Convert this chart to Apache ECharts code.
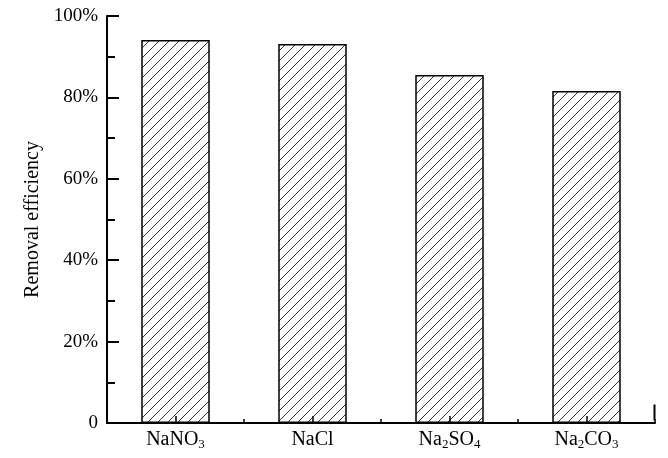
<!DOCTYPE html>
<html>
<head>
<meta charset="utf-8">
<script src="https://cdn.jsdelivr.net/npm/echarts@6/dist/echarts.min.js"></script>
<style>
  html, body { margin: 0; padding: 0; background: #fff; }
  #chart { width: 668px; height: 458px; }
</style>
</head>
<body>
<div id="chart"></div>
<script>
// data
const categories = ["NaNO{sub|3}", "NaCl", "Na{sub|2}SO{sub|4}", "Na{sub|2}CO{sub|3}"];
const removal = [94.1, 93.1, 85.5, 81.6];

const font = "Liberation Serif";

// diagonal hatch tile
const hatch = document.createElement("canvas");
hatch.width = 10;
hatch.height = 10;
const ctx = hatch.getContext("2d");
ctx.fillStyle = "#fff";
ctx.fillRect(0, 0, 10, 10);
ctx.strokeStyle = "#333";
ctx.lineWidth = 1;
ctx.beginPath();
ctx.moveTo(-1, 11); ctx.lineTo(11, -1);
ctx.moveTo(-1, 1); ctx.lineTo(1, -1);
ctx.moveTo(9, 11); ctx.lineTo(11, 9);
ctx.stroke();

const chart = echarts.init(document.getElementById("chart"));

const labelRich = {
  sub: { fontFamily: font, fontSize: 13, lineHeight: 16, color: "#000", padding: [10, 0, 0, 0] },
};

const option = {
  animation: false,
  grid: { left: 107, right: 13, top: 16, bottom: 35 },
  xAxis: [
    {
      type: "category",
      data: categories,
      z: 5,
      axisLine: { lineStyle: { color: "#000", width: 2 } },
      axisTick: { show: true, inside: true, length: 4, lineStyle: { color: "#000", width: 1.5 } },
      axisLabel: {
        interval: 0,
        fontFamily: font,
        fontSize: 20,
        lineHeight: 26,
        color: "#000",
        margin: 4,
        rich: labelRich,
      },
    },
    {
      type: "category",
      data: categories,
      position: "bottom",
      z: 5,
      axisLine: { show: false },
      axisTick: { show: true, inside: true, alignWithLabel: true, interval: 0, length: 7, lineStyle: { color: "#000", width: 1.5 } },
      axisLabel: { show: false },
    },
  ],
  yAxis: {
    type: "value",
    min: 0,
    max: 100,
    interval: 20,
    name: "Removal efficiency",
    nameLocation: "middle",
    nameGap: 52,
    nameTextStyle: { fontFamily: font, fontSize: 20, color: "#000" },
    axisLine: { show: true, lineStyle: { color: "#000", width: 2 } },
    axisTick: { show: true, inside: true, length: 12, lineStyle: { color: "#000", width: 2 } },
    minorTick: { show: true, splitNumber: 2, length: 8, lineStyle: { color: "#000", width: 2 } },
    splitLine: { show: false },
    axisLabel: {
      fontFamily: font,
      fontSize: 19,
      color: "#000",
      margin: 9,
      formatter: (v) => (v === 0 ? "0" : v + "%"),
    },
  },
  graphic: [
    {
      type: "line",
      right: 11,
      bottom: 35,
      shape: { x1: 0, y1: 0, x2: 0, y2: 16 },
      style: { stroke: "#000", lineWidth: 2 },
    },
  ],
  series: [
    {
      type: "bar",
      data: removal,
      barWidth: "50%",
      itemStyle: {
        color: { image: hatch, repeat: "repeat" },
        borderColor: "#000",
        borderWidth: 1.5,
      },
    },
  ],
};

chart.setOption(option);
</script>
</body>
</html>
